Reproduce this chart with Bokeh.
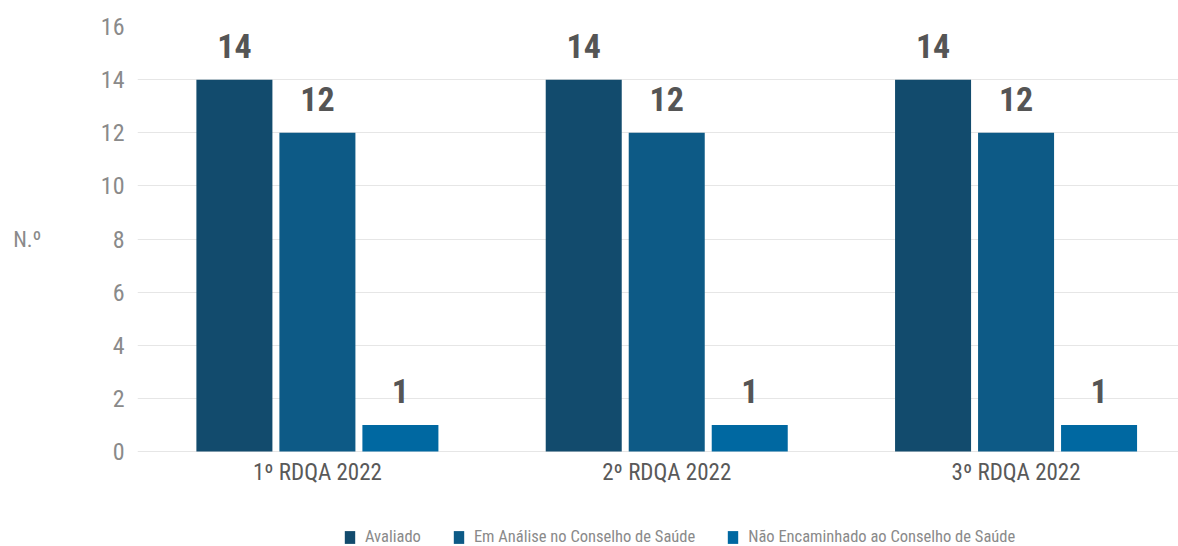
from bokeh.plotting import figure
from bokeh.models import (ColumnDataSource, FixedTicker, Range1d, LabelSet, Legend,
                          LegendItem, LinearAxis)
from bokeh.embed import file_html
from bokeh.resources import INLINE
from bokeh.core.properties import value

categories = ["1º RDQA 2022", "2º RDQA 2022", "3º RDQA 2022"]
series_names = ["Avaliado", "Em Análise no Conselho de Saúde",
                "Não Encaminhado ao Conselho de Saúde"]
avaliado = [14, 14, 14]
em_analise = [12, 12, 12]
nao_encaminhado = [1, 1, 1]
series_values = [avaliado, em_analise, nao_encaminhado]
colors = ["#124B6D", "#0D5A86", "#0068A1"]
y_ticks = [0, 2, 4, 6, 8, 10, 12, 14, 16]
y_label = "N.º"
y_label_at = 8

FONT = "'Roboto Condensed', 'DejaVu Sans Condensed', 'Liberation Sans', sans-serif"

p = figure(width=1178, height=546, output_backend="svg",
           toolbar_location=None, min_border_left=137, min_border_right=0,
           min_border_top=26, min_border_bottom=0,
           x_range=Range1d(-0.515, 2.465), y_range=Range1d(-3.576, 16))
p.outline_line_color = None
p.background_fill_color = "white"

offsets = [-0.2376, 0.0, 0.2376]
bar_w = 0.2176
renderers = []
for name, vals, off, col in zip(series_names, series_values, offsets, colors):
    src = ColumnDataSource(dict(x=[i + off for i in range(len(categories))],
                                top=vals, txt=[str(v) for v in vals]))
    r = p.vbar(x="x", top="top", bottom=0, width=bar_w, source=src,
               fill_color=col, line_color=None)
    renderers.append((name, r))
    p.add_layout(LabelSet(x="x", y="top", text="txt", source=src,
                          text_align="center", text_baseline="alphabetic",
                          y_offset=22, text_font=value(FONT),
                          text_font_size="34px", text_font_style="bold",
                          text_color="#555555"))

# category labels under the bars
cat_src = ColumnDataSource(dict(x=list(range(len(categories))),
                                y=[0] * len(categories), txt=categories))
p.add_layout(LabelSet(x="x", y="y", text="txt", source=cat_src,
                      text_align="center", text_baseline="middle", y_offset=-21,
                      text_font=value(FONT), text_font_size="23px",
                      text_color="#595959"))
p.xaxis.visible = False
p.xgrid.grid_line_color = None

# y axis
p.yaxis.ticker = FixedTicker(ticks=y_ticks)
p.yaxis.major_label_text_font = FONT
p.yaxis.major_label_text_font_size = "24px"
p.yaxis.major_label_text_color = "#8a8a8a"
p.yaxis.major_label_standoff = 13
p.yaxis.major_tick_out = 0
p.yaxis.major_tick_in = 0
p.yaxis.axis_line_color = None
p.yaxis.major_tick_line_color = None
p.yaxis.minor_tick_line_color = None

# "N.º" label as an outer left axis with a single labelled tick
lab_axis = LinearAxis(ticker=FixedTicker(ticks=[y_label_at]),
                      major_label_overrides={y_label_at: y_label},
                      axis_line_color=None, major_tick_line_color=None,
                      minor_tick_line_color=None, major_tick_out=0, major_tick_in=0,
                      major_label_standoff=56, major_label_text_font=FONT,
                      major_label_text_font_size="22px",
                      major_label_text_color="#8a8a8a")
p.add_layout(lab_axis, "left")

p.ygrid.ticker = FixedTicker(ticks=y_ticks)
p.ygrid.grid_line_color = "#e6e6e6"
p.ygrid.grid_line_width = 1

legend = Legend(items=[LegendItem(label=n, renderers=[r]) for n, r in renderers],
                orientation="horizontal", location=(206, 0), margin=0, padding=2,
                spacing=31, label_standoff=9, glyph_width=13, glyph_height=16,
                border_line_color=None, background_fill_alpha=0,
                label_text_font=FONT, label_text_font_size="16.5px",
                label_text_color="#8a8a8a")
p.add_layout(legend)

open("out.html", "w").write(file_html(p, INLINE))
